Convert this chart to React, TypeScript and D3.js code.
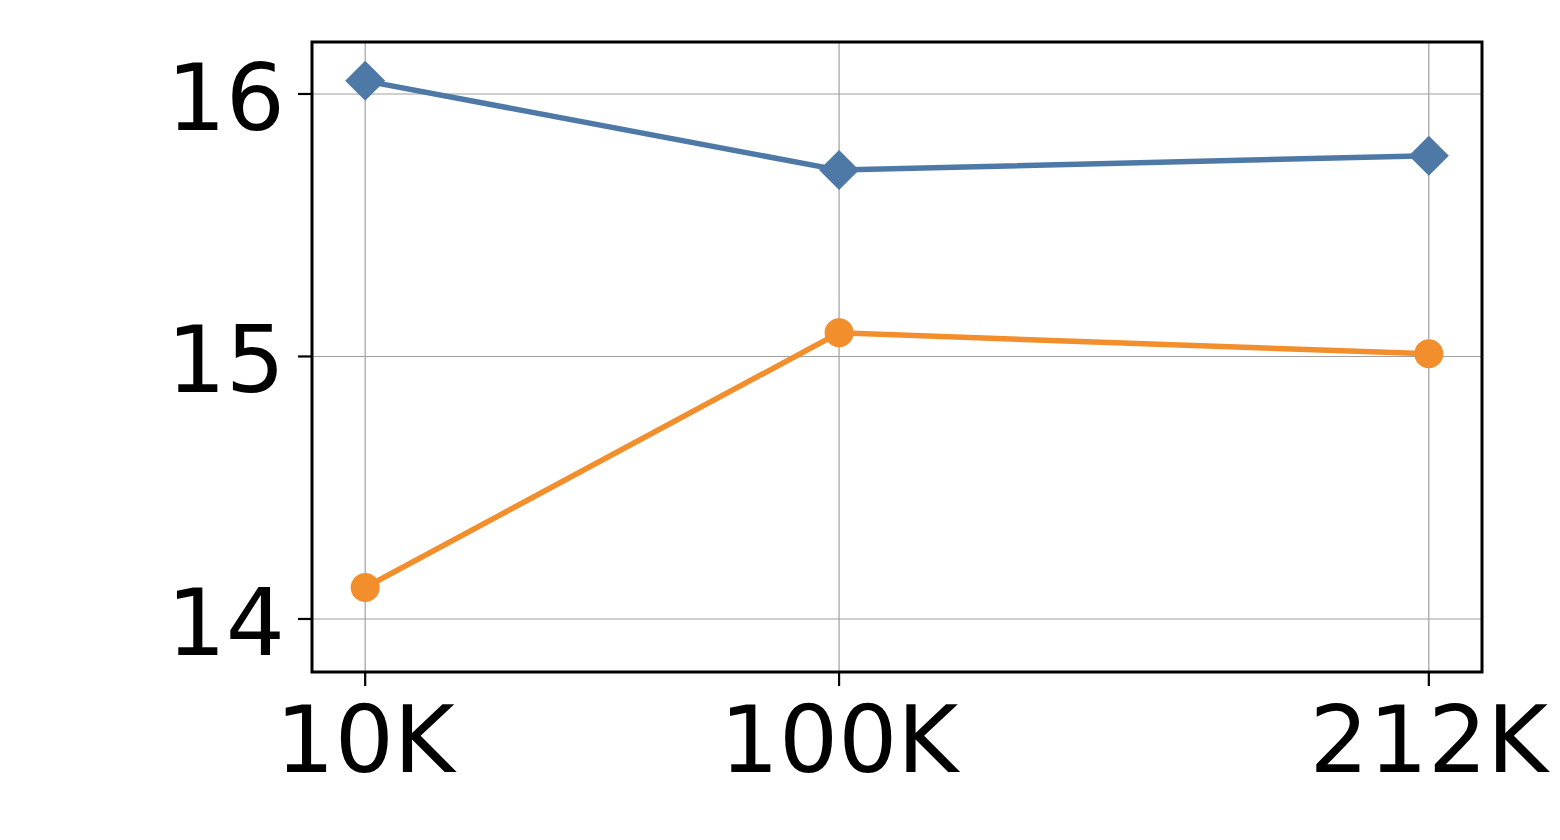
import React from "react";
import * as d3 from "d3";

const xValues = [10, 100, 212];
const xLabels = ["10K", "100K", "212K"];
const blueSeries = [16.05, 15.71, 15.765];
const orangeSeries = [14.12, 15.09, 15.01];
const yTicks = [14, 15, 16];

const W = 1560;
const H = 840;
const left = 312;
const right = 1482;
const top = 42;
const bottom = 672;

export default function App() {
  const x = d3.scaleLinear().domain([-0.1, 222.1]).range([left, right]);
  const y = d3.scaleLinear().domain([13.798, 16.198]).range([bottom, top]);
  const line = d3
    .line<number>()
    .x((_, i) => x(xValues[i]))
    .y((d) => y(d));
  const fs = 93;
  const diamond = 20;
  return (
    <svg
      width={W}
      height={H}
      style={{ position: "absolute", left: 0, top: 0, background: "#fff" }}
      fontFamily="DejaVu Sans"
    >
      <rect x={0} y={0} width={W} height={H} fill="#fff" />
      {xValues.map((v, i) => (
        <line key={"gx" + i} x1={x(v)} x2={x(v)} y1={top} y2={bottom} stroke="#a0a0a0" strokeWidth={1.2} />
      ))}
      {yTicks.map((t) => (
        <line key={"gy" + t} x1={left} x2={right} y1={y(t)} y2={y(t)} stroke="#a0a0a0" strokeWidth={1.2} />
      ))}
      <path d={line(blueSeries) || ""} fill="none" stroke="#4e79a7" strokeWidth={5.5} />
      {blueSeries.map((v, i) => {
        const cx = x(xValues[i]);
        const cy = y(v);
        return (
          <path
            key={"b" + i}
            d={`M${cx},${cy - diamond}L${cx + diamond},${cy}L${cx},${cy + diamond}L${cx - diamond},${cy}Z`}
            fill="#4e79a7"
          />
        );
      })}
      <path d={line(orangeSeries) || ""} fill="none" stroke="#f28e2b" strokeWidth={5.5} />
      {orangeSeries.map((v, i) => (
        <circle key={"o" + i} cx={x(xValues[i])} cy={y(v)} r={14.5} fill="#f28e2b" />
      ))}
      <rect x={left} y={top} width={right - left} height={bottom - top} fill="none" stroke="#000" strokeWidth={3} />
      {yTicks.map((t) => (
        <g key={"yt" + t}>
          <line x1={left - 14} x2={left} y1={y(t)} y2={y(t)} stroke="#000" strokeWidth={2.2} />
          <text x={left - 27} y={y(t) + 36} fontSize={fs} textAnchor="end" fill="#000">
            {t}
          </text>
        </g>
      ))}
      {xValues.map((v, i) => (
        <g key={"xt" + i}>
          <line x1={x(v)} x2={x(v)} y1={bottom} y2={bottom + 14} stroke="#000" strokeWidth={2.2} />
          <text x={x(v)} y={772} fontSize={fs} textAnchor="middle" fill="#000">
            {xLabels[i]}
          </text>
        </g>
      ))}
    </svg>
  );
}
